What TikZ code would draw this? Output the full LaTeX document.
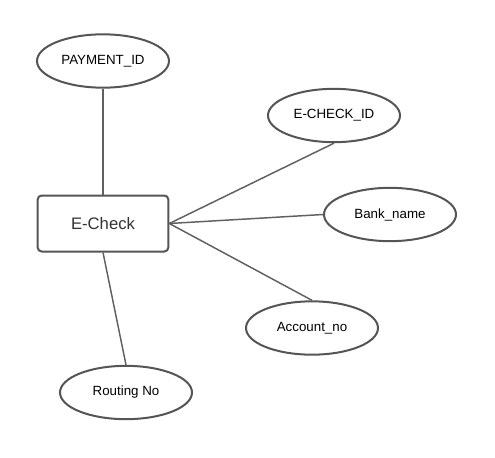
\documentclass[tikz,border=0pt]{standalone}
\usepackage{fontspec}
\setmainfont{Liberation Sans}
\usetikzlibrary{shapes.geometric}
\definecolor{edgegray}{HTML}{555555}
\definecolor{linegray}{HTML}{606060}
\definecolor{txtgray}{HTML}{333333}
\tikzset{
  attr/.style={ellipse, draw=edgegray, line width=1.5pt, inner sep=0pt,
    minimum width=99pt, minimum height=40pt, font=\fontsize{10}{12}\selectfont, text=black},
  entity/.style={rectangle, rounded corners=3pt, draw=edgegray, line width=1.5pt, inner sep=0pt,
    minimum width=98pt, minimum height=42pt, font=\fontsize{12.5}{14}\selectfont, text=txtgray},
  conn/.style={draw=linegray, line width=1.1pt}
}
\begin{document}
\begin{tikzpicture}[x=0.75pt,y=-0.75pt]
\useasboundingbox (0,0) rectangle (495,457);
\node[entity] (ec) at (103,223.5) {E-Check};
\node[attr] (pay) at (103,61) {PAYMENT\_ID};
\node[attr] (eid) at (334,115.5) {E-CHECK\_ID};
\node[attr] (bank) at (390,214.5) {Bank\_name};
\node[attr] (acc) at (312,328) {Account\_no};
\node[attr] (rout) at (126,392.5) {Routing No};
\draw[conn] (pay.south) -- (ec.north);
\draw[conn] (ec.east) -- (eid.south);
\draw[conn] (ec.east) -- (bank.west);
\draw[conn] (ec.east) -- (acc.north);
\draw[conn] (ec.south) -- (rout.north);
\end{tikzpicture}
\end{document}
